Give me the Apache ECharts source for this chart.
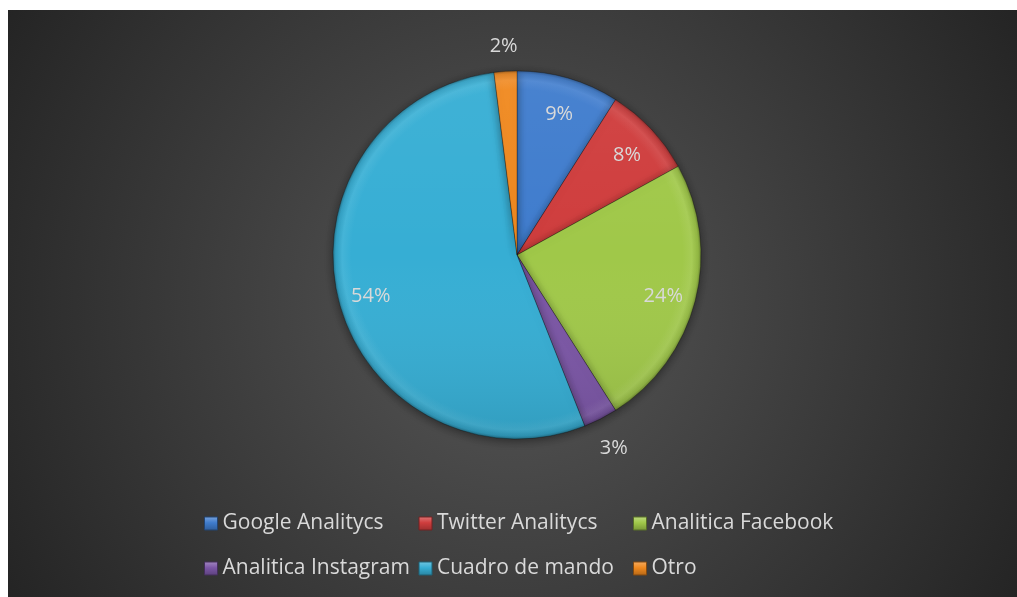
<!DOCTYPE html>
<html>
<head>
<meta charset="utf-8">
<script src="https://cdn.jsdelivr.net/npm/echarts@6/dist/echarts.min.js"></script>
<style>
  html, body { margin: 0; padding: 0; background: #ffffff; }
  #chart { position: absolute; left: 8px; top: 10px; width: 1009px; height: 587px; }
</style>
</head>
<body>
<div id="chart"></div>
<script>
// Share of analytics tools used
const categories = ['Google Analitycs', 'Twitter Analitycs', 'Analitica Facebook',
                    'Analitica Instagram', 'Cuadro de mando', 'Otro'];
const shares = [9, 8, 24, 3, 54, 2];
const palette = ['#3f7ccd', '#cf3d3d', '#a0c849', '#7b56a6', '#36aed4', '#f0891f'];
const outsideLabel = [false, false, false, true, false, true];

const CX = 509, CY = 245, R = 184;
const FONT = 'Open Sans';

function shade(hex, amt) {
  const n = parseInt(hex.slice(1), 16);
  let r = (n >> 16) & 255, g = (n >> 8) & 255, b = n & 255;
  const f = c => Math.max(0, Math.min(255, Math.round(amt >= 0 ? c + (255 - c) * amt : c * (1 + amt))));
  return 'rgb(' + f(r) + ',' + f(g) + ',' + f(b) + ')';
}

// bevelled rim: base colour, soft highlight near the edge, darker outline
function rimFill(hex) {
  return {
    type: 'radial', x: CX, y: CY, r: R, global: true,
    colorStops: [
      { offset: 0, color: hex },
      { offset: 0.9, color: hex },
      { offset: 0.95, color: shade(hex, 0.07) },
      { offset: 0.985, color: shade(hex, -0.08) },
      { offset: 1, color: shade(hex, -0.3) }
    ]
  };
}

function iconFill(hex) {
  return {
    type: 'linear', x: 0, y: 0, x2: 0, y2: 1,
    colorStops: [
      { offset: 0, color: shade(hex, 0.3) },
      { offset: 0.45, color: hex },
      { offset: 1, color: shade(hex, -0.25) }
    ]
  };
}

const chart = echarts.init(document.getElementById('chart'), null, { renderer: 'canvas' });

const pieData = categories.map((name, i) => ({
  name, value: shares[i],
  itemStyle: { color: rimFill(palette[i]) }
}));

function ringData(showOutside) {
  return categories.map((name, i) => ({
    name, value: shares[i],
    label: { show: showOutside === null ? false : outsideLabel[i] === showOutside }
  }));
}

const labelStyle = {
  position: 'inside',
  formatter: p => p.value + '%',
  color: '#d9d9d9',
  fontFamily: FONT,
  fontSize: 20,
  textBorderWidth: 0,
  offset: [0, 4]
};

const common = {
  type: 'pie',
  center: [CX, CY],
  startAngle: 90,
  clockwise: true,
  labelLine: { show: false },
  emphasis: { disabled: true }
};

chart.setOption({
  backgroundColor: {
    type: 'radial', x: 0.5, y: 0.5, r: 1.0,
    colorStops: [
      { offset: 0, color: '#575757' },
      { offset: 1, color: '#242424' }
    ]
  },
  animation: false,
  legend: {
    left: 196,
    top: 491,
    width: 660,
    padding: 0,
    itemWidth: 13,
    itemHeight: 13,
    itemGap: 0,
    icon: 'rect',
    data: categories.map((name, i) => ({
      name,
      itemStyle: { color: iconFill(palette[i]), borderColor: shade(palette[i], -0.45), borderWidth: 1 }
    })),
    textStyle: {
      color: '#d9d9d9',
      fontFamily: FONT,
      fontSize: 21,
      width: 196,
      lineHeight: 45
    },
    selectedMode: false
  },
  series: [
    Object.assign({}, common, {
      radius: [0, R],
      data: pieData,
      label: { show: false },
      itemStyle: {
        borderColor: 'rgba(0,0,0,0.3)',
        borderWidth: 1,
        shadowBlur: 10,
        shadowColor: 'rgba(0,0,0,0.45)',
        shadowOffsetY: 2
      }
    }),
    // top-to-bottom lighting across the disc
    Object.assign({}, common, {
      radius: [0, R],
      silent: true,
      data: ringData(null),
      label: { show: false },
      itemStyle: {
        color: {
          type: 'linear', x: 0, y: CY - R, x2: 0, y2: CY + R, global: true,
          colorStops: [
            { offset: 0, color: 'rgba(255,255,255,0.05)' },
            { offset: 0.5, color: 'rgba(255,255,255,0)' },
            { offset: 1, color: 'rgba(0,0,0,0.1)' }
          ]
        }
      }
    }),
    Object.assign({}, common, {
      radius: [112, R],
      silent: true,
      data: ringData(false),
      itemStyle: { color: 'rgba(0,0,0,0)' },
      label: labelStyle
    }),
    Object.assign({}, common, {
      radius: [R, 236],
      silent: true,
      data: ringData(true),
      itemStyle: { color: 'rgba(0,0,0,0)' },
      label: labelStyle
    })
  ]
});
</script>
</body>
</html>
